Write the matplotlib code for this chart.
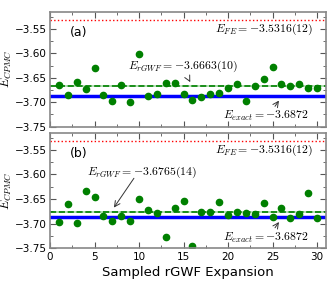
import matplotlib
matplotlib.use("Agg")
import matplotlib.pyplot as plt
import numpy as np

plt.rcParams['mathtext.fontset'] = 'cm'

# sample index
x = list(range(1, 31))

# panel (a) CPMC energies
e_a = [-3.664, -3.686, -3.659, -3.673, -3.631, -3.685, -3.697, -3.664, -3.699, -3.601,
       -3.688, -3.683, -3.661, -3.661, -3.684, -3.695, -3.689, -3.683, -3.681, -3.671,
       -3.662, -3.697, -3.667, -3.652, -3.627, -3.663, -3.666, -3.662, -3.671, -3.671]
err_a = [0.002, 0.002, 0.002, 0.004, 0.002, 0.002, 0.002, 0.002, 0.002, 0.002,
         0.002, 0.002, 0.002, 0.002, 0.002, 0.002, 0.002, 0.002, 0.002, 0.002,
         0.002, 0.002, 0.002, 0.002, 0.002, 0.002, 0.002, 0.002, 0.002, 0.002]

# panel (b) CPMC energies
e_b = [-3.696, -3.659, -3.698, -3.633, -3.645, -3.685, -3.695, -3.685, -3.695, -3.649,
       -3.673, -3.678, -3.727, -3.669, -3.654, -3.745, -3.676, -3.677, -3.656, -3.682,
       -3.676, -3.678, -3.680, -3.657, -3.687, -3.668, -3.689, -3.681, -3.638, -3.689]
err_b = [0.005] * 30

e_fe = -3.5316
e_exact = -3.6872
e_rgwf_a = -3.6663
e_rgwf_b = -3.6765

fig = plt.figure(figsize=(3.36, 2.86), dpi=100)
ax1 = fig.add_axes([0.149, 0.557, 0.821, 0.402])
ax2 = fig.add_axes([0.149, 0.132, 0.821, 0.404])

panels = [
    (ax1, e_a, err_a, e_rgwf_a, '(a)', r'$E_{rGWF}=-3.6663(10)$',
     (8.8, -3.627), (15.9, -3.664), (15.5, -3.650)),
    (ax2, e_b, err_b, e_rgwf_b, '(b)', r'$E_{rGWF}=-3.6765(14)$',
     (4.2, -3.595), (7.0, -3.672), (9.6, -3.603)),
]

for ax, e, err, erg, lab, rtxt, rpos, rtip, rtail in panels:
    ax.axhline(e_fe, color='red', ls=':', lw=1)
    ax.axhspan(e_exact - 0.0025, e_exact + 0.0025, color='#aab4ff', lw=0)
    ax.axhline(e_exact, color='blue', lw=2.5)
    ax.axhspan(erg - 0.002, erg + 0.002, color='#b8e0b8', lw=0)
    ax.axhline(erg, color='green', ls='--', lw=1.2)
    ax.errorbar(x, e, yerr=err, fmt='o', color='green', ms=4.5, elinewidth=1, capsize=0)

    ax.set_xlim(0, 31)
    ax.set_ylim(-3.75, -3.515)
    ax.set_yticks([-3.75, -3.70, -3.65, -3.60, -3.55])
    ax.set_yticks(np.arange(-3.75, -3.515, 0.025), minor=True)
    ax.set_xticks([0, 5, 10, 15, 20, 25, 30])
    ax.set_xticks(np.arange(0, 31, 2.5), minor=True)
    ax.tick_params(which='both', direction='in', top=True, right=True, color='#555555',
                   labelsize=7.5, pad=2.5)
    ax.tick_params(which='major', length=4)
    ax.tick_params(which='minor', length=2)
    for s in ax.spines.values():
        s.set_color('#888888')
        s.set_linewidth(1.2)
    ax.set_ylabel(r'$E_{CPMC}$', fontsize=9)
    ax.yaxis.set_label_coords(-0.132, 0.5)

    ax.text(2.2, -3.5575, lab, fontsize=9, va='center')
    ax.text(29.5, -3.551, r'$E_{FE}=-3.5316(12)$', fontsize=8.5, ha='right', va='center')
    ax.text(rpos[0], rpos[1], rtxt, fontsize=8.5, va='center')
    ax.annotate('', xy=rtip, xytext=rtail,
                arrowprops=dict(arrowstyle='->', color='#333333', lw=0.7))
    ax.text(29.0, -3.729, r'$E_{exact}=-3.6872$', fontsize=8.5, ha='right', va='center')
    ax.annotate('', xy=(25.9, -3.692), xytext=(25.1, -3.713),
                arrowprops=dict(arrowstyle='->', color='#333333', lw=0.7))

ax1.tick_params(labelbottom=False)
ax2.set_xlabel('Sampled rGWF Expansion', fontsize=9.5, labelpad=3)

fig.savefig('out.png', dpi=100)
